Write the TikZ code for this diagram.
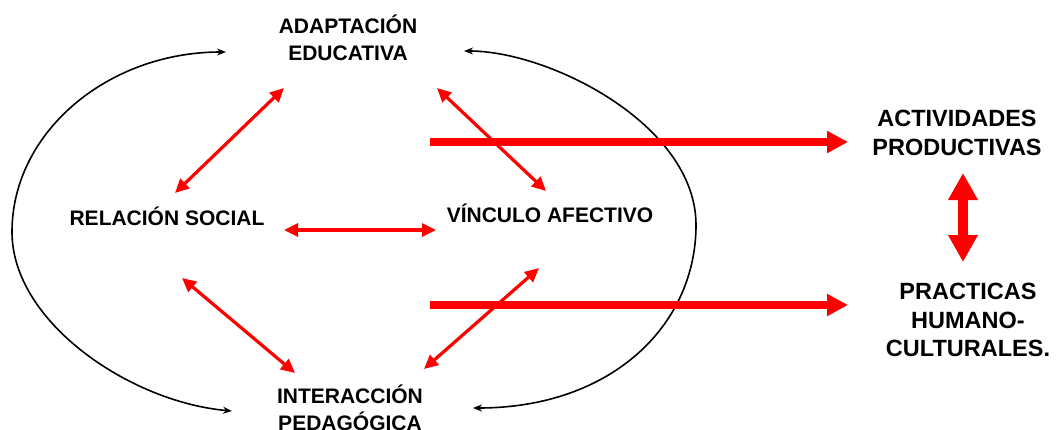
\documentclass[tikz,border=0pt]{standalone}
\usepackage{fontspec}
\setmainfont{Liberation Sans}
\usetikzlibrary{arrows.meta}

\begin{document}
\begin{tikzpicture}[x=1pt,y=-1pt,
	concepto/.style={font=\bfseries\fontsize{21}{27}\selectfont, align=center},
	resultado/.style={font=\bfseries\fontsize{23.5}{28.5}\selectfont, align=center},
	ciclo/.style={line width=1.6pt, {Stealth[length=9pt,width=7pt]}-{Stealth[length=9pt,width=7pt]}},
	relacion/.style={red, line width=3.2pt, {Triangle[length=14pt,width=13pt]}-{Triangle[length=14pt,width=13pt]}},
	salida/.style={red, line width=7.5pt, -{Triangle[length=21pt,width=21pt]}},
	enlace/.style={red, line width=10pt, {Triangle[length=27pt,width=28pt]}-{Triangle[length=27pt,width=28pt]}}]
	\useasboundingbox (0,0) rectangle (1058,429);
	% Conceptos del ciclo
	\node[concepto] (adapt) at (348,38) {ADAPTACIÓN\\EDUCATIVA};
	\node[concepto] (relac) at (167,216) {RELACIÓN SOCIAL};
	\node[concepto] (vinc) at (550,213) {VÍNCULO AFECTIVO};
	\node[concepto] (inter) at (350,408) {INTERACCIÓN\\PEDAGÓGICA};
	% Resultados a la derecha
	\node[resultado] (activ) at (957,133) {ACTIVIDADES\\PRODUCTIVAS};
	\node[resultado] (pract) at (968,320) {PRACTICAS\\HUMANO-\\CULTURALES.};
	% Extremos del ciclo
	\coordinate (adaptW) at ([shift={(-122,14)}]adapt.center);
	\coordinate (adaptE) at ([shift={(116,13)}]adapt.center);
	\coordinate (interW) at ([shift={(-118,3)}]inter.center);
	\coordinate (interE) at ([shift={(123,0)}]inter.center);
	% Ciclo negro
	\draw[ciclo] (adaptW) .. controls (108,52) and (12,132) .. (12,232)
		.. controls (12,322) and (130,402) .. (interW);
	\draw[ciclo] (adaptE) .. controls (550,51) and (696,125) .. (696,225)
		.. controls (696,325) and (612,408) .. (interE);
	% Flechas rojas entre conceptos
	\draw[relacion] ([shift={(-64,50)}]adapt.center) -- ([shift={(8,-23)}]relac.center);
	\draw[relacion] ([shift={(89,50)}]adapt.center) -- ([shift={(-4,-22)}]vinc.center);
	\draw[relacion] ([shift={(117,14)}]relac.center) -- ([shift={(-114,17)}]vinc.center);
	\draw[relacion] ([shift={(15,62)}]relac.center) -- ([shift={(-55,-35)}]inter.center);
	\draw[relacion] ([shift={(-11,55)}]vinc.center) -- ([shift={(74,-39)}]inter.center);
	% Flechas gruesas hacia los resultados
	\coordinate (salidaA) at (430,142);
	\coordinate (salidaB) at (430,305);
	\draw[salida] (salidaA) -- ([shift={(-109,9)}]activ.center);
	\draw[salida] (salidaB) -- ([shift={(-120,-15)}]pract.center);
	\draw[enlace] ([shift={(6,40)}]activ.center) -- ([shift={(-5,-58)}]pract.center);
\end{tikzpicture}
\end{document}
